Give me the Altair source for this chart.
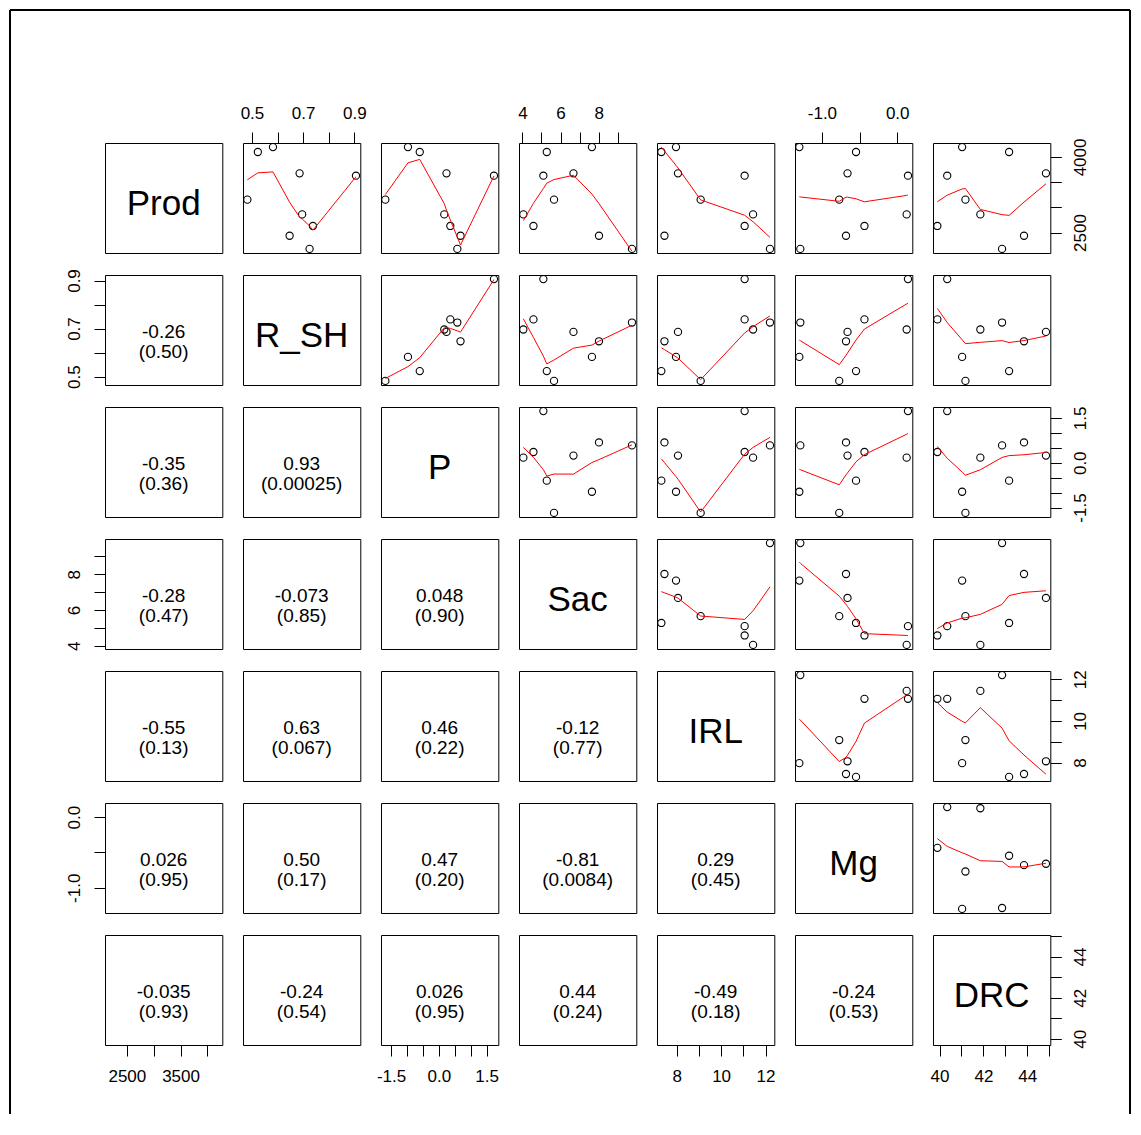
import altair as alt
import pandas as pd

# ---- data (9 observations) ----
Prod = [3152, 4098, 4196, 3674, 2859, 2630, 2435, 2174, 3628]
R_SH = [0.482, 0.523, 0.582, 0.686, 0.696, 0.738, 0.647, 0.725, 0.906]
P = [-1.68, -0.60, -0.97, 0.24, 0.17, 0.36, 0.68, 0.58, 1.73]
Sac = [5.66, 5.28, 7.65, 6.68, 4.05, 4.58, 8.02, 9.75, 5.10]
IRL = [9.08, 7.31, 7.97, 8.06, 11.44, 11.06, 7.45, 12.20, 11.06]
Mg = [-0.77, -0.547, -1.30, -0.66, 0.126, -0.435, -0.68, -1.287, 0.143]
DRC = [41.18, 43.17, 41.03, 44.85, 41.86, 39.90, 43.85, 42.85, 40.35]

names = ["Prod", "R_SH", "P", "Sac", "IRL", "Mg", "DRC"]

# correlation labels for lower panels (row, col)
cor_r = {
    (1, 0): "-0.26",
    (2, 0): "-0.35", (2, 1): "0.93",
    (3, 0): "-0.28", (3, 1): "-0.073", (3, 2): "0.048",
    (4, 0): "-0.55", (4, 1): "0.63", (4, 2): "0.46", (4, 3): "-0.12",
    (5, 0): "0.026", (5, 1): "0.50", (5, 2): "0.47", (5, 3): "-0.81", (5, 4): "0.29",
    (6, 0): "-0.035", (6, 1): "-0.24", (6, 2): "0.026", (6, 3): "0.44", (6, 4): "-0.49", (6, 5): "-0.24",
}
cor_p = {
    (1, 0): "(0.50)",
    (2, 0): "(0.36)", (2, 1): "(0.00025)",
    (3, 0): "(0.47)", (3, 1): "(0.85)", (3, 2): "(0.90)",
    (4, 0): "(0.13)", (4, 1): "(0.067)", (4, 2): "(0.22)", (4, 3): "(0.77)",
    (5, 0): "(0.95)", (5, 1): "(0.17)", (5, 2): "(0.20)", (5, 3): "(0.0084)", (5, 4): "(0.45)",
    (6, 0): "(0.93)", (6, 1): "(0.54)", (6, 2): "(0.95)", (6, 3): "(0.24)", (6, 4): "(0.18)", (6, 5): "(0.53)",
}

# tick values and labels
ticks = {
    "Prod": [2500, 3000, 3500, 4000],
    "R_SH": [0.5, 0.6, 0.7, 0.8, 0.9],
    "P": [-1.5, -1.0, -0.5, 0.0, 0.5, 1.0, 1.5],
    "Sac": [4, 5, 6, 7, 8, 9],
    "IRL": [8, 9, 10, 11, 12],
    "Mg": [-1.0, -0.5, 0.0],
    "DRC": [40, 41, 42, 43, 44, 45],
}
xlabels = {  # labels on top/bottom axes
    "Prod": ["2500", "", "3500", ""],
    "R_SH": ["0.5", "", "0.7", "", "0.9"],
    "P": ["-1.5", "", "", "0.0", "", "", "1.5"],
    "Sac": ["4", "", "6", "", "8", ""],
    "IRL": ["8", "", "10", "", "12"],
    "Mg": ["-1.0", "", "0.0"],
    "DRC": ["40", "", "42", "", "44", ""],
}
ylabels = {  # labels on left/right axes
    "Prod": ["2500", "", "", "4000"],
    "R_SH": ["0.5", "", "0.7", "", "0.9"],
    "P": ["-1.5", "", "", "0.0", "", "", "1.5"],
    "Sac": ["4", "", "6", "", "8", ""],
    "IRL": ["8", "", "10", "", "12"],
    "Mg": ["-1.0", "", "0.0"],
    "DRC": ["40", "", "42", "", "44", ""],
}

df = pd.DataFrame({"Prod": Prod, "R_SH": R_SH, "P": P, "Sac": Sac,
                   "IRL": IRL, "Mg": Mg, "DRC": DRC})

FONT = "Liberation Sans"
W, H = 117.3, 110
PANEL_X0, PANEL_Y0 = 105, 143  # page position of top-left panel

dom = {}
for v in names:
    lo, hi = float(df[v].min()), float(df[v].max())
    r = hi - lo
    dom[v] = [lo - 0.04 * r, hi + 0.04 * r]


def label_expr(vals, labs):
    s = ""
    for v, l in zip(vals, labs):
        if l:
            s += f"abs(datum.value - ({v})) < 1e-9 ? '{l}' : "
    return s + "''"


def make_axis(var, orient):
    common = dict(orient=orient, values=ticks[var], tickSize=11, tickColor="black",
                  tickWidth=1, domain=False, grid=False, title=None,
                  labelFlush=False, labelOverlap=False, labelFontSize=17,
                  labelFont=FONT, labelColor="black")
    if orient in ("top", "bottom"):
        return alt.Axis(labelExpr=label_expr(ticks[var], xlabels[var]),
                        labelPadding=10 if orient == "top" else 12,
                        labelAngle=0, **common)
    return alt.Axis(labelExpr=label_expr(ticks[var], ylabels[var]),
                    labelPadding=11, labelAngle=270, labelAlign="center",
                    labelBaseline="bottom" if orient == "left" else "top", **common)


def sc(v):
    return alt.Scale(domain=dom[v], nice=False, zero=False)


panels = []
for i, vy in enumerate(names):
    for j, vx in enumerate(names):
        xaxis = None
        yaxis = None
        if i == 0 and j % 2 == 1:
            xaxis = make_axis(vx, "top")
        if i == 6 and j % 2 == 0:
            xaxis = make_axis(vx, "bottom")
        if j == 0 and i % 2 == 1:
            yaxis = make_axis(vy, "left")
        if j == 6 and i % 2 == 0:
            yaxis = make_axis(vy, "right")

        layers = []
        if i < j:
            xenc = alt.X(vx, type="quantitative", scale=sc(vx), axis=xaxis)
            yenc = alt.Y(vy, type="quantitative", scale=sc(vy), axis=yaxis)
            pts = alt.Chart(df).mark_point(shape="circle", filled=False, color="black",
                                           size=52, strokeWidth=1.1, opacity=1).encode(
                x=xenc, y=yenc)
            smooth = alt.Chart(df).transform_loess(vx, vy, bandwidth=2 / 3).mark_line(
                color="red", strokeWidth=1).encode(x=xenc, y=yenc)
            layers += [pts, smooth]
        else:
            if xaxis is not None or yaxis is not None:
                enc = {}
                if xaxis is not None:
                    enc["x"] = alt.X(vx, type="quantitative", scale=sc(vx), axis=xaxis)
                if yaxis is not None:
                    enc["y"] = alt.Y(vy, type="quantitative", scale=sc(vy), axis=yaxis)
                layers.append(alt.Chart(df).mark_point(opacity=0).encode(**enc))
            if i == j:
                layers.append(
                    alt.Chart(pd.DataFrame({"t": [vx]})).mark_text(
                        font=FONT, fontSize=35, color="black", align="center",
                        baseline="middle").encode(
                        text="t:N", x=alt.value(W / 2), y=alt.value(H / 2 + 6)))
            else:
                layers.append(
                    alt.Chart(pd.DataFrame({"t": [cor_r[(i, j)]]})).mark_text(
                        font=FONT, fontSize=19, color="black", align="center",
                        baseline="middle").encode(
                        text="t:N", x=alt.value(W / 2), y=alt.value(57)))
                layers.append(
                    alt.Chart(pd.DataFrame({"t": [cor_p[(i, j)]]})).mark_text(
                        font=FONT, fontSize=19, color="black", align="center",
                        baseline="middle").encode(
                        text="t:N", x=alt.value(W / 2), y=alt.value(77)))

        if i == 0 and j == 0:
            # outer frame of the figure (decoration)
            fx0, fy0, fx1, fy1 = 10 - PANEL_X0, 10 - PANEL_Y0, 1130 - PANEL_X0, 1114 - PANEL_Y0
            fr = pd.DataFrame({"k": [0]})
            layers.append(alt.Chart(fr).mark_rule(color="black", strokeWidth=2).encode(
                x=alt.value(fx0), x2=alt.value(fx1), y=alt.value(fy0), y2=alt.value(fy0)))
            layers.append(alt.Chart(fr).mark_rule(color="black", strokeWidth=2).encode(
                x=alt.value(fx0), x2=alt.value(fx0), y=alt.value(fy0), y2=alt.value(fy1)))
            layers.append(alt.Chart(fr).mark_rule(color="black", strokeWidth=2).encode(
                x=alt.value(fx1), x2=alt.value(fx1), y=alt.value(fy0), y2=alt.value(fy1)))

        panels.append(alt.layer(*layers).properties(width=W, height=H))

chart = alt.concat(*panels, columns=7, spacing={"row": 22, "column": 20},
                   bounds="flush").properties(padding=0).configure_view(
    stroke="black", strokeWidth=1, fill="white")

chart.save("out.html", embed_options={"renderer": "svg", "actions": False})
